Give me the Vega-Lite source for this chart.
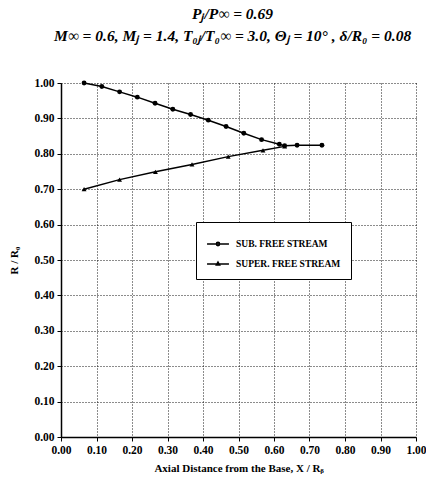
{
  "$schema": "https://vega.github.io/schema/vega-lite/v6.json",
  "width": 355,
  "height": 354,
  "autosize": "none",
  "padding": {"left": 61, "top": 83, "right": 10, "bottom": 55},
  "background": "white",
  "title": {
    "text": ["Pⱼ/P∞ = 0.69", "M∞ = 0.6, Mⱼ = 1.4, T₀ⱼ/T₀∞ = 3.0, Θⱼ = 10° , δ/R₀ = 0.08"],
    "font": "Liberation Serif",
    "fontSize": 15.5,
    "fontStyle": "italic",
    "fontWeight": "bold",
    "lineHeight": 22,
    "color": "black",
    "anchor": "middle",
    "dx": -6,
    "offset": 33
  },
  "data": {
    "values": [
      {"series": "SUB. FREE STREAM", "x": 0.065, "y": 1.0},
      {"series": "SUB. FREE STREAM", "x": 0.115, "y": 0.99},
      {"series": "SUB. FREE STREAM", "x": 0.165, "y": 0.975},
      {"series": "SUB. FREE STREAM", "x": 0.215, "y": 0.96},
      {"series": "SUB. FREE STREAM", "x": 0.265, "y": 0.943},
      {"series": "SUB. FREE STREAM", "x": 0.315, "y": 0.926},
      {"series": "SUB. FREE STREAM", "x": 0.365, "y": 0.911},
      {"series": "SUB. FREE STREAM", "x": 0.415, "y": 0.895},
      {"series": "SUB. FREE STREAM", "x": 0.465, "y": 0.877},
      {"series": "SUB. FREE STREAM", "x": 0.515, "y": 0.858},
      {"series": "SUB. FREE STREAM", "x": 0.565, "y": 0.84},
      {"series": "SUB. FREE STREAM", "x": 0.615, "y": 0.827},
      {"series": "SUB. FREE STREAM", "x": 0.63, "y": 0.823},
      {"series": "SUB. FREE STREAM", "x": 0.665, "y": 0.824},
      {"series": "SUB. FREE STREAM", "x": 0.735, "y": 0.824},
      {"series": "SUPER. FREE STREAM", "x": 0.065, "y": 0.70},
      {"series": "SUPER. FREE STREAM", "x": 0.165, "y": 0.727},
      {"series": "SUPER. FREE STREAM", "x": 0.266, "y": 0.749},
      {"series": "SUPER. FREE STREAM", "x": 0.369, "y": 0.77},
      {"series": "SUPER. FREE STREAM", "x": 0.471, "y": 0.792},
      {"series": "SUPER. FREE STREAM", "x": 0.569, "y": 0.81},
      {"series": "SUPER. FREE STREAM", "x": 0.63, "y": 0.821}
    ]
  },
  "config": {
    "view": {"stroke": null},
    "axis": {
      "domainColor": "black",
      "domainWidth": 1.5,
      "tickColor": "black",
      "tickSize": 4,
      "grid": true,
      "gridColor": "black",
      "gridDash": [1, 2],
      "gridWidth": 1,
      "gridOpacity": 0.9,
      "labelFont": "Liberation Sans Narrow",
      "labelFontSize": 11.5,
      "labelFontWeight": "bold",
      "labelColor": "black",
      "labelOverlap": false,
      "titleFont": "Liberation Serif",
      "titleFontWeight": "bold",
      "titleColor": "black",
      "titleFontSize": 11
    }
  },
  "encoding": {
    "x": {
      "field": "x", "type": "quantitative",
      "scale": {"domain": [0, 1], "nice": false},
      "axis": {"values": [0, 0.1, 0.2, 0.3, 0.4, 0.5, 0.6, 0.7, 0.8, 0.9, 1.0], "format": ".2f", "labelOverlap": false, "labelBound": false, "labelFlush": false, "title": "Axial Distance from the Base, X / Rᵦ", "titlePadding": 7, "labelPadding": 3}
    },
    "y": {
      "field": "y", "type": "quantitative",
      "scale": {"domain": [0, 1], "nice": false},
      "axis": {"values": [0, 0.1, 0.2, 0.3, 0.4, 0.5, 0.6, 0.7, 0.8, 0.9, 1.0], "format": ".2f", "labelOverlap": false, "labelBound": false, "labelFlush": false, "title": "R / R₀", "titlePadding": 14, "labelPadding": 3}
    }
  },
  "layer": [
    {
      "mark": {"type": "line", "color": "black", "strokeWidth": 1.5},
      "encoding": {
        "detail": {"field": "series"}
      }
    },
    {
      "mark": {"type": "point", "filled": true, "color": "black", "opacity": 1},
      "encoding": {
        "shape": {
          "field": "series", "type": "nominal",
          "scale": {"domain": ["SUB. FREE STREAM", "SUPER. FREE STREAM"], "range": ["circle", "triangle-up"]},
          "legend": null
        },
        "size": {"value": 24}
      }
    },
    {
      "transform": [{"filter": "false"}],
      "mark": {"type": "point", "filled": false, "color": "black", "strokeWidth": 1.5, "opacity": 1},
      "encoding": {
        "shape": {
          "field": "series", "type": "nominal",
          "scale": {
            "domain": ["SUB. FREE STREAM", "SUPER. FREE STREAM"],
            "range": [
              "M-1,0L1,0M0.15,0A0.15,0.15,0,1,1,-0.15,0A0.15,0.15,0,1,1,0.15,0Z",
              "M-1,0L1,0M0,-0.17L0.15,0.1L-0.15,0.1Z"
            ]
          },
          "legend": {
            "title": null,
            "orient": "none",
            "legendX": 135,
            "legendY": 139,
            "strokeColor": "black",
            "fillColor": "white",
            "padding": 10,
            "symbolSize": 480,
            "symbolStrokeWidth": 1.5,
            "symbolStrokeColor": "black",
            "symbolFillColor": "black",
            "labelFont": "Liberation Serif",
            "labelFontWeight": "bold",
            "labelFontSize": 9.5,
            "labelColor": "black",
            "rowPadding": 3,
            "labelOffset": 6
          }
        }
      }
    }
  ],
  "resolve": {"scale": {"shape": "independent"}, "legend": {"shape": "independent"}}
}
